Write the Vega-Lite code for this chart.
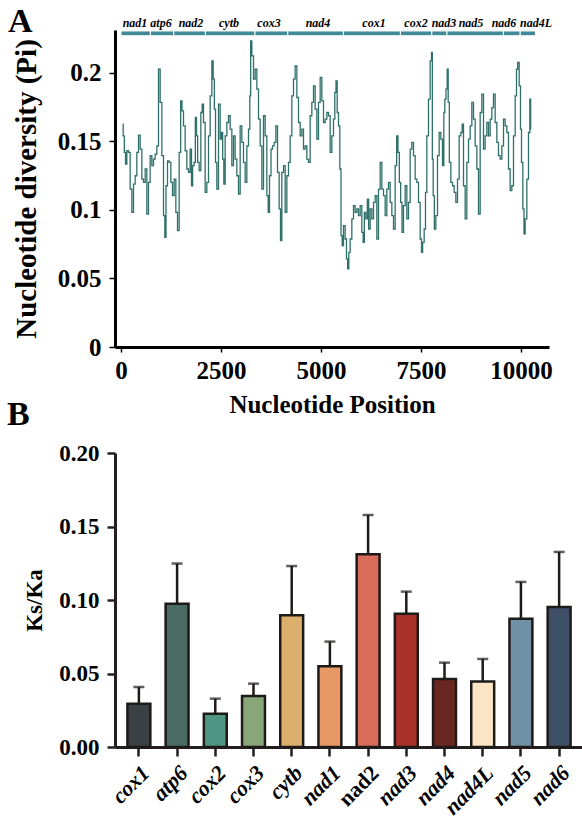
{
  "$schema": "https://vega.github.io/schema/vega-lite/v6.json",
  "autosize": {"type": "pad"},
  "padding": {"left": 7, "top": 4, "right": 0, "bottom": 0},
  "background": "white",
  "config": {"view": {"stroke": null}, "font": "Liberation Serif"},
  "bounds": "flush",
  "spacing": 106,
  "datasets": {
    "pi": [
      {"pos":42,"pi":0.1624},{"pos":67,"pi":0.1539},{"pos":100,"pi":0.1418},{"pos":125,"pi":0.1333},{"pos":167,"pi":0.1430},{"pos":208,"pi":0.1418},{"pos":250,"pi":0.1151},{"pos":292,"pi":0.0981},{"pos":333,"pi":0.1187},{"pos":375,"pi":0.1248},{"pos":417,"pi":0.1418},{"pos":458,"pi":0.1544},{"pos":500,"pi":0.1442},{"pos":542,"pi":0.1224},{"pos":583,"pi":0.1200},{"pos":625,"pi":0.1297},{"pos":667,"pi":0.0969},{"pos":708,"pi":0.1200},{"pos":750,"pi":0.1394},{"pos":792,"pi":0.1321},{"pos":833,"pi":0.1369},{"pos":875,"pi":0.1406},{"pos":917,"pi":0.1466},{"pos":958,"pi":0.2024},{"pos":1000,"pi":0.1782},{"pos":1042,"pi":0.1394},{"pos":1083,"pi":0.0957},{"pos":1108,"pi":0.0799},{"pos":1142,"pi":0.1175},{"pos":1183,"pi":0.1357},{"pos":1225,"pi":0.1345},{"pos":1267,"pi":0.1200},{"pos":1308,"pi":0.1103},{"pos":1350,"pi":0.1224},{"pos":1392,"pi":0.0981},{"pos":1433,"pi":0.0848},{"pos":1475,"pi":0.1418},{"pos":1508,"pi":0.1794},{"pos":1542,"pi":0.1721},{"pos":1583,"pi":0.1612},{"pos":1625,"pi":0.1430},{"pos":1667,"pi":0.1297},{"pos":1708,"pi":0.1272},{"pos":1750,"pi":0.1442},{"pos":1775,"pi":0.1175},{"pos":1808,"pi":0.1321},{"pos":1842,"pi":0.1345},{"pos":1875,"pi":0.1673},{"pos":1900,"pi":0.1539},{"pos":1933,"pi":0.1345},{"pos":1975,"pi":0.1285},{"pos":2017,"pi":0.1709},{"pos":2042,"pi":0.1770},{"pos":2083,"pi":0.1636},{"pos":2125,"pi":0.1127},{"pos":2167,"pi":0.1200},{"pos":2208,"pi":0.1539},{"pos":2250,"pi":0.1830},{"pos":2292,"pi":0.2085},{"pos":2317,"pi":0.1952},{"pos":2350,"pi":0.1733},{"pos":2375,"pi":0.1345},{"pos":2417,"pi":0.1151},{"pos":2458,"pi":0.1770},{"pos":2500,"pi":0.1515},
      {"pos":2525,"pi":0.1563},{"pos":2558,"pi":0.1369},{"pos":2583,"pi":0.1187},{"pos":2625,"pi":0.1539},{"pos":2667,"pi":0.1636},{"pos":2708,"pi":0.1685},{"pos":2750,"pi":0.1588},{"pos":2792,"pi":0.1321},{"pos":2833,"pi":0.1539},{"pos":2875,"pi":0.1369},{"pos":2917,"pi":0.1248},{"pos":2958,"pi":0.1115},{"pos":3000,"pi":0.1612},{"pos":3042,"pi":0.1491},{"pos":3083,"pi":0.1345},{"pos":3125,"pi":0.1200},{"pos":3167,"pi":0.1466},{"pos":3208,"pi":0.1588},{"pos":3233,"pi":0.1830},{"pos":3250,"pi":0.2231},{"pos":3292,"pi":0.2121},{"pos":3333,"pi":0.1952},{"pos":3375,"pi":0.2024},{"pos":3417,"pi":0.1879},{"pos":3458,"pi":0.1661},{"pos":3500,"pi":0.1466},{"pos":3542,"pi":0.1151},{"pos":3583,"pi":0.1685},{"pos":3625,"pi":0.1539},{"pos":3667,"pi":0.1103},{"pos":3692,"pi":0.0981},{"pos":3733,"pi":0.1248},{"pos":3767,"pi":0.1442},{"pos":3808,"pi":0.1466},{"pos":3850,"pi":0.1491},{"pos":3892,"pi":0.1612},{"pos":3933,"pi":0.1272},{"pos":3975,"pi":0.1006},{"pos":4000,"pi":0.0775},{"pos":4042,"pi":0.1272},{"pos":4083,"pi":0.1321},{"pos":4125,"pi":0.0981},{"pos":4167,"pi":0.1248},{"pos":4208,"pi":0.1345},{"pos":4250,"pi":0.1539},{"pos":4292,"pi":0.1830},{"pos":4333,"pi":0.1952},{"pos":4375,"pi":0.2049},{"pos":4417,"pi":0.1818},{"pos":4458,"pi":0.1636},{"pos":4500,"pi":0.1539},{"pos":4542,"pi":0.1588},{"pos":4583,"pi":0.1442},{"pos":4625,"pi":0.1466},{"pos":4667,"pi":0.1369},{"pos":4708,"pi":0.1345},{"pos":4750,"pi":0.1685},{"pos":4792,"pi":0.1782},{"pos":4833,"pi":0.1903},{"pos":4875,"pi":0.1733},{"pos":4917,"pi":0.1515},{"pos":4958,"pi":0.1782},{"pos":5000,"pi":0.1964},{"pos":5042,"pi":0.1794},{"pos":5083,"pi":0.1636},{"pos":5125,"pi":0.1661},
      {"pos":5167,"pi":0.1709},{"pos":5208,"pi":0.1685},{"pos":5250,"pi":0.1418},{"pos":5292,"pi":0.1539},{"pos":5333,"pi":0.1661},{"pos":5358,"pi":0.1855},{"pos":5392,"pi":0.1939},{"pos":5417,"pi":0.1709},{"pos":5458,"pi":0.1612},{"pos":5483,"pi":0.1297},{"pos":5517,"pi":0.0811},{"pos":5542,"pi":0.0739},{"pos":5583,"pi":0.0884},{"pos":5625,"pi":0.0787},{"pos":5650,"pi":0.0642},{"pos":5683,"pi":0.0569},{"pos":5708,"pi":0.0690},{"pos":5750,"pi":0.0787},{"pos":5792,"pi":0.0933},{"pos":5833,"pi":0.1030},{"pos":5875,"pi":0.0981},{"pos":5917,"pi":0.1006},{"pos":5958,"pi":0.0957},{"pos":6000,"pi":0.1030},{"pos":6042,"pi":0.0836},{"pos":6067,"pi":0.0763},{"pos":6100,"pi":0.0981},{"pos":6142,"pi":0.0933},{"pos":6175,"pi":0.1078},{"pos":6208,"pi":0.0860},{"pos":6250,"pi":0.1006},{"pos":6292,"pi":0.0933},{"pos":6333,"pi":0.1054},{"pos":6375,"pi":0.1103},{"pos":6417,"pi":0.0787},{"pos":6458,"pi":0.1151},{"pos":6500,"pi":0.1345},{"pos":6542,"pi":0.1151},{"pos":6583,"pi":0.1103},{"pos":6625,"pi":0.0957},{"pos":6667,"pi":0.1151},{"pos":6708,"pi":0.1200},{"pos":6750,"pi":0.1054},{"pos":6792,"pi":0.0957},{"pos":6833,"pi":0.0860},{"pos":6875,"pi":0.1321},{"pos":6908,"pi":0.1539},{"pos":6942,"pi":0.1418},{"pos":6975,"pi":0.1200},{"pos":7008,"pi":0.1054},{"pos":7042,"pi":0.0836},{"pos":7083,"pi":0.1030},{"pos":7125,"pi":0.1175},{"pos":7167,"pi":0.0933},{"pos":7208,"pi":0.1054},{"pos":7250,"pi":0.1442},{"pos":7292,"pi":0.1491},{"pos":7333,"pi":0.1394},{"pos":7375,"pi":0.1224},{"pos":7417,"pi":0.1200},{"pos":7458,"pi":0.1054},{"pos":7500,"pi":0.0787},{"pos":7525,"pi":0.0690},{"pos":7558,"pi":0.0763},{"pos":7600,"pi":0.0860},{"pos":7625,"pi":0.1127},{"pos":7667,"pi":0.1539},{"pos":7708,"pi":0.1806},{"pos":7750,"pi":0.2085},{"pos":7775,"pi":0.2146},
      {"pos":7792,"pi":0.1369},{"pos":7817,"pi":0.1103},{"pos":7850,"pi":0.0860},{"pos":7892,"pi":0.0957},{"pos":7933,"pi":0.1394},{"pos":7975,"pi":0.1563},{"pos":8017,"pi":0.1515},{"pos":8058,"pi":0.1321},{"pos":8083,"pi":0.1709},{"pos":8108,"pi":0.1806},{"pos":8142,"pi":0.1879},{"pos":8167,"pi":0.2024},{"pos":8192,"pi":0.1782},{"pos":8225,"pi":0.1345},{"pos":8267,"pi":0.1200},{"pos":8308,"pi":0.1175},{"pos":8350,"pi":0.1127},{"pos":8392,"pi":0.1054},{"pos":8433,"pi":0.1224},{"pos":8475,"pi":0.1539},{"pos":8517,"pi":0.1563},{"pos":8542,"pi":0.1624},{"pos":8583,"pi":0.1175},{"pos":8625,"pi":0.0933},{"pos":8667,"pi":0.1345},{"pos":8708,"pi":0.1515},{"pos":8750,"pi":0.1612},{"pos":8792,"pi":0.1782},{"pos":8833,"pi":0.1661},{"pos":8875,"pi":0.1466},{"pos":8917,"pi":0.1297},{"pos":8958,"pi":0.0969},{"pos":9000,"pi":0.1709},{"pos":9042,"pi":0.1842},{"pos":9083,"pi":0.1442},{"pos":9125,"pi":0.1539},{"pos":9167,"pi":0.1636},{"pos":9208,"pi":0.1539},{"pos":9250,"pi":0.1661},{"pos":9292,"pi":0.1745},{"pos":9333,"pi":0.1842},{"pos":9375,"pi":0.1636},{"pos":9417,"pi":0.1491},{"pos":9458,"pi":0.1394},{"pos":9500,"pi":0.1369},{"pos":9542,"pi":0.1466},{"pos":9583,"pi":0.1661},{"pos":9625,"pi":0.1612},{"pos":9667,"pi":0.1563},{"pos":9708,"pi":0.1297},{"pos":9750,"pi":0.1139},{"pos":9792,"pi":0.1175},{"pos":9833,"pi":0.1539},{"pos":9875,"pi":0.1830},{"pos":9900,"pi":0.2024},{"pos":9933,"pi":0.2073},{"pos":9975,"pi":0.1903},{"pos":10000,"pi":0.1588},{"pos":10025,"pi":0.1345},{"pos":10067,"pi":0.1006},{"pos":10083,"pi":0.0824},{"pos":10125,"pi":0.0933},{"pos":10167,"pi":0.1224},{"pos":10208,"pi":0.1563},{"pos":10233,"pi":0.1806},{"pos":10250,"pi":0.1588}
    ],
    "genes": [
      {"gene":"nad1","start":0,"end":735,"mid":350},
      {"gene":"atp6","start":735,"end":1320,"mid":1000},
      {"gene":"nad2","start":1320,"end":2110,"mid":1750},
      {"gene":"cytb","start":2110,"end":3350,"mid":2700},
      {"gene":"cox3","start":3350,"end":4170,"mid":3700},
      {"gene":"nad4","start":4170,"end":5560,"mid":4925},
      {"gene":"cox1","start":5560,"end":6985,"mid":6325},
      {"gene":"cox2","start":6985,"end":7770,"mid":7375},
      {"gene":"nad3","start":7770,"end":8150,"mid":8075},
      {"gene":"nad5","start":8150,"end":9560,"mid":8750},
      {"gene":"nad6","start":9560,"end":9980,"mid":9575},
      {"gene":"nad4L","start":9980,"end":10360,"mid":10375}
    ],
    "kaks": [
      {"gene":"cox1","value":0.0295,"upper":0.0408},
      {"gene":"atp6","value":0.0975,"upper":0.1248},
      {"gene":"cox2","value":0.0227,"upper":0.0329},
      {"gene":"cox3","value":0.0347,"upper":0.0431},
      {"gene":"cytb","value":0.0896,"upper":0.1231},
      {"gene":"nad1","value":0.0549,"upper":0.0717},
      {"gene":"nad2","value":0.1311,"upper":0.1578},
      {"gene":"nad3","value":0.0907,"upper":0.1057},
      {"gene":"nad4","value":0.0463,"upper":0.0574},
      {"gene":"nad4L","value":0.0445,"upper":0.0599},
      {"gene":"nad5","value":0.0873,"upper":0.1123},
      {"gene":"nad6","value":0.0952,"upper":0.1327}
    ]
  },
  "vconcat": [
    {
      "width": 434,
      "height": 317,
      "title": {"text": "A", "anchor": "start", "frame": "group", "dx": -107, "dy": 49, "offset": 0, "baseline": "alphabetic", "font": "Liberation Serif", "fontSize": 34, "fontWeight": "bold", "color": "black"},
      "layer": [
        {
          "data": {"name": "pi"},
          "mark": {"type": "line", "interpolate": "step", "color": "#2f706a", "strokeWidth": 1.3},
          "encoding": {
            "x": {"field": "pos", "type": "quantitative", "scale": {"domain": [-150, 10700], "nice": false, "zero": false},
              "axis": {"title": "Nucleotide Position", "values": [0, 2500, 5000, 7500, 10000], "format": "d", "grid": false,
                "domainColor": "black", "domainWidth": 3, "tickColor": "black", "tickWidth": 1.5, "tickSize": 5,
                "labelFont": "Liberation Serif", "labelFontSize": 25, "labelFontWeight": "bold", "labelColor": "black", "labelPadding": 6, "labelFlush": false,
                "titleFont": "Liberation Serif", "titleFontSize": 25, "titleFontWeight": "bold", "titleColor": "black", "titlePadding": 9}},
            "y": {"field": "pi", "type": "quantitative", "scale": {"domain": [0, 0.231], "nice": false},
              "axis": {"title": "Nucleotide diversity (Pi)", "values": [0, 0.05, 0.1, 0.15, 0.2], "format": "~g", "grid": false,
                "domainColor": "black", "domainWidth": 3, "tickColor": "black", "tickWidth": 1.5, "tickSize": 6,
                "labelFont": "Liberation Serif", "labelFontSize": 25, "labelFontWeight": "bold", "labelColor": "black", "labelPadding": 8, "labelFlush": false,
                "titleFont": "Liberation Serif", "titleFontSize": 29, "titleFontWeight": "bold", "titleColor": "black", "titlePadding": 16}}
          }
        },
        {
          "data": {"name": "genes"},
          "mark": {"type": "rect", "color": "#3f8a96", "stroke": "white", "strokeWidth": 1},
          "encoding": {
            "x": {"field": "start", "type": "quantitative"},
            "x2": {"field": "end"},
            "y": {"datum": 0.2268},
            "y2": {"datum": 0.2303}
          }
        },
        {
          "data": {"name": "genes"},
          "mark": {"type": "text", "font": "Liberation Serif", "fontSize": 12, "fontWeight": "bold", "fontStyle": "italic", "color": "black", "align": "center", "baseline": "alphabetic"},
          "encoding": {
            "x": {"field": "mid", "type": "quantitative"},
            "y": {"datum": 0.2335},
            "text": {"field": "gene"}
          }
        }
      ]
    },
    {
      "width": 468,
      "height": 294,
      "title": {"text": "B", "anchor": "start", "frame": "group", "dx": -108, "dy": 17, "offset": 0, "baseline": "alphabetic", "font": "Liberation Serif", "fontSize": 34, "fontWeight": "bold", "color": "black"},
      "data": {"name": "kaks"},
      "encoding": {
        "x": {"field": "gene", "type": "nominal", "sort": null,
          "scale": {"paddingInner": 0.4, "paddingOuter": 0.325},
          "axis": {"title": null, "labelAngle": -45, "grid": false,
            "domainColor": "#231f20", "domainWidth": 3, "tickColor": "#231f20", "tickWidth": 2.5, "tickSize": 9,
            "labelFont": "Liberation Serif", "labelFontSize": 22, "labelFontWeight": "bold", "labelColor": "black", "labelPadding": 6,
            "labelFontStyle": {"condition": {"test": "datum.value === 'nad2'", "value": "normal"}, "value": "italic"}}}
      },
      "layer": [
        {
          "mark": {"type": "bar", "stroke": "#1e1a18", "strokeWidth": 2.5},
          "encoding": {
            "y": {"field": "value", "type": "quantitative", "scale": {"domain": [0, 0.2], "nice": false},
              "axis": {"title": "Ks/Ka", "values": [0, 0.05, 0.1, 0.15, 0.2], "format": ".2f", "grid": false,
                "domainColor": "#231f20", "domainWidth": 3, "tickColor": "#231f20", "tickWidth": 2.5, "tickSize": 8,
                "labelFont": "Liberation Serif", "labelFontSize": 23, "labelFontWeight": "bold", "labelColor": "black", "labelPadding": 8, "labelFlush": false,
                "titleFont": "Liberation Serif", "titleFontSize": 23, "titleFontWeight": "bold", "titleColor": "black", "titlePadding": 12}},
            "color": {"field": "gene", "type": "nominal", "legend": null,
              "scale": {"domain": ["cox1","atp6","cox2","cox3","cytb","nad1","nad2","nad3","nad4","nad4L","nad5","nad6"],
                "range": ["#3a4145","#4a6b63","#4f9584","#88a678","#dcb06c","#e89865","#d96b5a","#a93229","#6a2722","#fbe5c5","#7090a6","#3d5068"]}}
          }
        },
        {
          "mark": {"type": "rule", "color": "#1e1a18", "strokeWidth": 2.5},
          "encoding": {
            "y": {"field": "value", "type": "quantitative"},
            "y2": {"field": "upper"}
          }
        },
        {
          "mark": {"type": "tick", "color": "#1e1a18", "thickness": 2.5, "size": 11},
          "encoding": {
            "y": {"field": "upper", "type": "quantitative"}
          }
        }
      ]
    }
  ]
}
